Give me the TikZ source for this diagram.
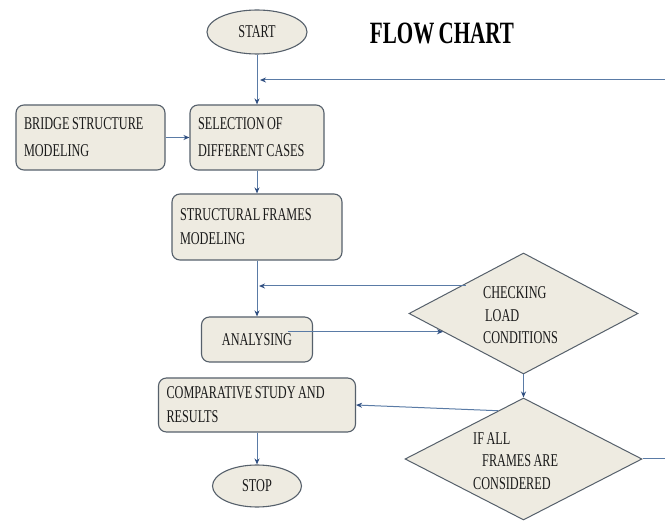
\documentclass[tikz,border=0pt]{standalone}
\usepackage{fontspec}
\setmainfont{Liberation Serif}[FakeStretch=0.68, WordSpace=0.8]
\usetikzlibrary{shapes.geometric,arrows.meta,calc}
\definecolor{boxfill}{HTML}{EEEBE1}
\definecolor{boxline}{HTML}{56606B}
\definecolor{linec}{HTML}{5A7BA6}
\definecolor{tipc}{HTML}{2F4E80}
\definecolor{ink}{HTML}{1A1A1A}
\begin{document}
\begin{tikzpicture}[x=1pt,y=-1pt,
  box/.style={draw=boxline, fill=boxfill, line width=1.1pt, rounded corners=8pt,
    inner xsep=8pt, inner ysep=0pt, align=flush left, text=ink,
    font=\fontsize{18}{24}\selectfont},
  oval/.style={ellipse, draw=boxline, fill=boxfill, line width=1.1pt, inner sep=0pt,
    text=ink, font=\fontsize{18}{24}\selectfont},
  decision/.style={diamond, draw=boxline, fill=boxfill, line width=1pt, inner sep=0pt},
  dtext/.style={align=left, inner sep=0pt, text=ink, font=\fontsize{18}{22.5}\selectfont},
  arr/.style={draw=linec, line width=1pt, -{Stealth[length=6pt,width=5pt,color=tipc]}},
  link/.style={draw=linec, line width=1pt}]

% canvas
\fill[white] (0,0) rectangle (665,521);
\useasboundingbox (0,0) rectangle (665,521);

% title
\node[text=black, font=\fontsize{31}{31}\selectfont\bfseries] (title) at (442,33) {FLOW CHART};

% main column
\node[oval, minimum width=100pt, minimum height=44pt] (start) at (257,32) {START};
\node[box, text width=133pt, minimum height=65pt] (bridge) at (90.5,137.5) {BRIDGE STRUCTURE\\[3pt]MODELING};
\node[box, text width=118pt, minimum height=65pt] (sel) at (257,137.5) {SELECTION OF\\[3pt]DIFFERENT CASES};
\node[box, text width=154pt, minimum height=66pt] (struct) at (257,227) {STRUCTURAL FRAMES\\MODELING};
\node[box, align=flush center, text width=95pt, minimum height=45pt] (analysing) at (257,339.5) {ANALYSING};
\node[box, text width=181pt, minimum height=54pt] (comp) at (257,405) {COMPARATIVE STUDY AND\\RESULTS};
\node[oval, minimum width=89pt, minimum height=42pt] (stop) at (257,486) {STOP};

% decisions
\node[decision, minimum width=229pt, minimum height=121pt] (check) at (523.5,313.5) {};
\node[dtext, anchor=west] (checktxt) at (483,315.5) {CHECKING\\\hspace*{2pt}LOAD\\CONDITIONS};
\node[decision, minimum width=237pt, minimum height=122pt] (ifall) at (523.5,459) {};
\node[dtext, anchor=west] (ifalltxt) at (473,461) {IF ALL\\\hspace*{9pt}FRAMES ARE\\CONSIDERED};

% loop ends leaving the sheet on the right
\coordinate (retTop) at (665,80);
\coordinate (retOut) at (665,459);

% connectors
\draw[arr] (start) -- (sel);
\draw[arr] (bridge) -- (sel);
\draw[arr] (sel) -- (struct);
\draw[arr] (struct) -- (analysing);
\draw[arr, shorten >=3pt] (retTop) -- (retTop -| start.south);
\draw[arr, shorten >=2pt] ([yshift=-3pt]check.north west) -- ([yshift=-3pt]check.north west -| struct.south);
\coordinate (ain) at ($(check.west)!0.3!(check.south)$);
\draw[arr] ([xshift=31pt]analysing.center |- ain) -- (ain);
\draw[arr] (check.south) -- (ifall.north);
\coordinate (iout) at ($(ifall.west)!0.785!(ifall.north)$);
\draw[arr] (iout) -- (comp.east);
\draw[link] (ifall.east) -- (retOut);
\draw[arr] (comp) -- (stop);
\end{tikzpicture}
\end{document}
